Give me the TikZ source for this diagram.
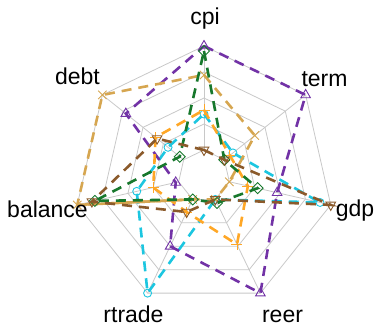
\documentclass[tikz,border=0pt]{standalone}
\usepackage{fontspec}
\setmainfont{Liberation Sans}
\usetikzlibrary{calc}
\definecolor{cyanS}{HTML}{1CC6E0}
\definecolor{purpS}{HTML}{7232A6}
\definecolor{oranS}{HTML}{FFA726}
\definecolor{tanS}{HTML}{D6A650}
\definecolor{grnS}{HTML}{17782C}
\definecolor{brnS}{HTML}{8B5A2B}
\definecolor{gridS}{HTML}{C8C8C8}
\tikzset{
  gridline/.style={draw=gridS, line width=0.8pt},
  serline/.style={line width=2.6pt, dash pattern=on 10pt off 7pt},
  mk/.style={line width=0.9pt, solid},
  lab/.style={font=\fontsize{23}{26}\selectfont, anchor=base, text=black, inner sep=0pt},
}
\newcommand\setser[2]{\foreach \r [count=\i] in {#2} {\coordinate (#1\i) at ($(O)+({90-(\i-1)*360/7}:\r)$);}}
\newcommand\polyser[2]{\draw[serline,#2] (#11) -- (#12) -- (#13) -- (#14) -- (#15) -- (#16) -- (#17) -- cycle;}
\begin{document}
\begin{tikzpicture}[x=1pt,y=1pt]
\useasboundingbox (0,0) rectangle (377,331);
\coordinate (O) at (204,155);
% grid
\foreach \r in {26,52,78,104,130}
  \draw[gridline] ($(O)+(90:\r)$) \foreach \k in {1,...,6}{ -- ($(O)+({90-\k*360/7}:\r)$)} -- cycle;
\foreach \k in {0,...,6}
  \draw[gridline] ($(O)+({90-\k*360/7}:26)$) -- ($(O)+({90-\k*360/7}:130)$);
% data: cpi, term, gdp, reer, rtrade, balance, debt
\setser{cy}{62,37,119,26,130,69,46}
\setser{pu}{130,130,75,130,78,29,100}
\setser{or}{66,33,45,76,40,52,62}
\setser{tn}{101,65,26,26,26,130,130}
\setser{gr}{125,26,55,30,26,112,31}
\setser{br}{26,26,130,26,40,115,60}
% cyan, circles
\polyser{cy}{cyanS}
\foreach \i in {1,...,7} \draw[mk,cyanS] (cy\i) circle (4);
% purple, triangles up
\polyser{pu}{purpS}
\foreach \i in {1,...,7} \draw[mk,purpS,shift={(pu\i)}] (0,5.5) -- (-4.8,-2.8) -- (4.8,-2.8) -- cycle;
% orange, plus
\polyser{or}{oranS}
\foreach \i in {1,...,7} \draw[mk,oranS,shift={(or\i)}] (-5.5,0) -- (5.5,0) (0,-5.5) -- (0,5.5);
% tan, cross
\polyser{tn}{tanS}
\draw[line width=2.6pt,tanS] (tn5) -- (tn6);
\foreach \i in {1,...,7} \draw[mk,tanS,shift={(tn\i)}] (-4.2,-4.2) -- (4.2,4.2) (-4.2,4.2) -- (4.2,-4.2);
% green, diamonds
\polyser{gr}{grnS}
\foreach \i in {1,...,7} \draw[mk,grnS,shift={(gr\i)}] (0,5.5) -- (5.5,0) -- (0,-5.5) -- (-5.5,0) -- cycle;
% brown, triangles down
\polyser{br}{brnS}
\foreach \i in {1,...,7} \draw[mk,brnS,shift={(br\i)}] (0,-5.5) -- (-4.8,2.8) -- (4.8,2.8) -- cycle;
% labels
\node[lab] (lcpi) at (205,306) {cpi};
\node[lab] (lterm) at (324.5,244) {term};
\node[lab] (lgdp) at (355,114) {gdp};
\node[lab] (lreer) at (282.5,8) {reer};
\node[lab] (lrtrade) at (133.5,8) {rtrade};
\node[lab] (lbalance) at (47.5,113) {balance};
\node[lab] (ldebt) at (77.5,246) {debt};
\end{tikzpicture}
\end{document}
